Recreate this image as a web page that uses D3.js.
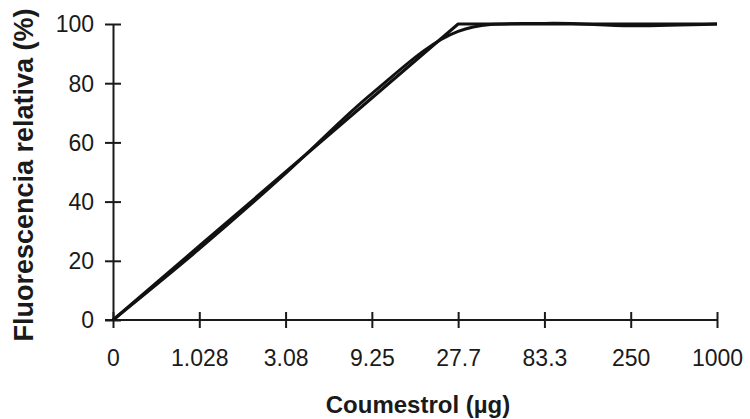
<!DOCTYPE html>
<html lang="es">
<head>
    <meta charset="UTF-8">
    <title>Fluorescencia relativa vs Coumestrol</title>
    <script src="https://d3js.org/d3.v7.min.js"></script>
    <style>
        body {
            margin: 0;
            background: #fff;
        }

        text {
            font-family: Arial, "Liberation Sans", sans-serif;
            fill: #1a1a1a;
        }

        .axis path,
        .axis line {
            stroke: #1a1a1a;
            stroke-width: 2px;
        }

        .axis text {
            font-size: 23px;
        }

        .title {
            font-weight: bold;
        }

        .serie {
            fill: none;
            stroke: #111;
            stroke-width: 3px;
            stroke-linejoin: round;
        }
    </style>
</head>
<body>
<svg width="750" height="419"></svg>

<script>
    // Concentraciones (eje x, categorias equiespaciadas)
    const categories = ["0", "1.028", "3.08", "9.25", "27.7", "83.3", "250", "1000"];

    // Respuesta teorica (lineal hasta saturacion)
    const teorica = [0, 25, 50, 75, 100, 100, 100, 100];

    // Respuesta medida (linea suavizada)
    const medida = [0, 24, 49.5, 76.5, 97.5, 100.2, 99.4, 100];

    const yTicks = [0, 20, 40, 60, 80, 100];

    const svg = d3.select("svg");

    const x = d3.scalePoint()
        .domain(categories)
        .range([113, 717]);

    const y = d3.scaleLinear()
        .domain([0, 100])
        .range([320, 24]);

    // Eje y
    const yAxis = svg.append("g")
        .attr("class", "axis")
        .attr("transform", "translate(113,0)")
        .call(d3.axisLeft(y).tickValues(yTicks).tickSizeOuter(0));

    yAxis.selectAll(".tick line").attr("x1", -8).attr("x2", 8);
    yAxis.selectAll(".tick text").attr("x", -19).attr("dy", "0.34em");

    // Eje x
    const xAxis = svg.append("g")
        .attr("class", "axis")
        .attr("transform", "translate(0,320)")
        .call(d3.axisBottom(x).tickSizeOuter(0));

    xAxis.select(".domain").attr("d", `M${x("0") - 8},0H${x("1000")}`);
    xAxis.selectAll(".tick line").attr("y1", -8).attr("y2", 8);
    xAxis.selectAll(".tick text").attr("y", 46).attr("dy", null);

    // Series
    const lineaRecta = d3.line()
        .x((d, i) => x(categories[i]))
        .y(d => y(d));

    const lineaSuave = d3.line()
        .x((d, i) => x(categories[i]))
        .y(d => y(d))
        .curve(d3.curveCatmullRom.alpha(0.5));

    svg.append("path")
        .datum(teorica)
        .attr("class", "serie")
        .attr("d", lineaRecta);

    svg.append("path")
        .datum(medida)
        .attr("class", "serie")
        .attr("d", lineaSuave);

    // Titulos de los ejes
    svg.append("text")
        .attr("class", "title")
        .attr("x", 418)
        .attr("y", 413)
        .attr("text-anchor", "middle")
        .style("font-size", "24px")
        .text("Coumestrol (µg)");

    svg.append("text")
        .attr("class", "title")
        .attr("transform", "translate(33,175) rotate(-90)")
        .attr("text-anchor", "middle")
        .style("font-size", "27px")
        .text("Fluorescencia relativa (%)");
</script>
</body>
</html>
